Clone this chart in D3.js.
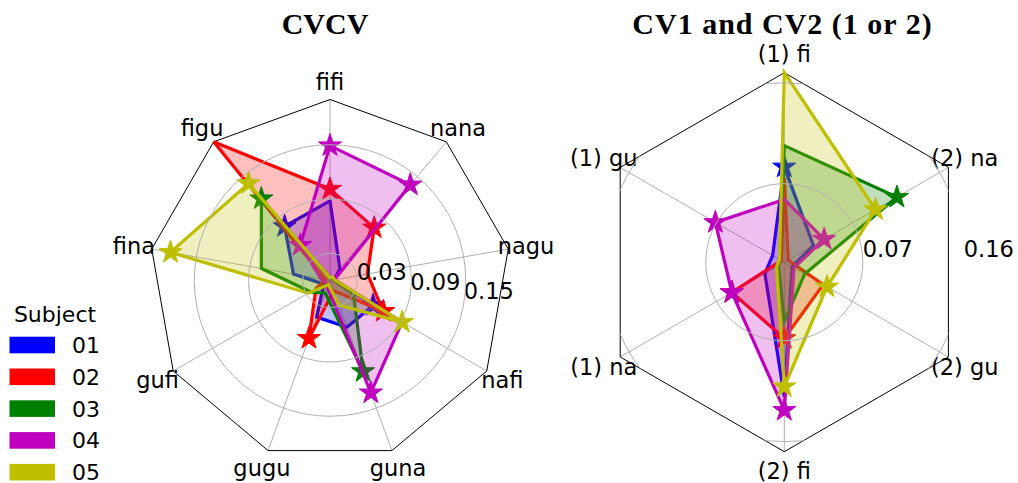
<!DOCTYPE html>
<html>
<head>
<meta charset="utf-8">
<script src="https://cdn.jsdelivr.net/npm/d3@7"></script>
<style>
  html, body { margin: 0; padding: 0; background: #fff; }
  svg { display: block; }
</style>
</head>
<body>
<svg id="chart" width="1018" height="483"></svg>
<script>
// ---------------- DATA ----------------
const subjects = ["01", "02", "03", "04", "05"];

// Left chart: CVCV
const cvcvAxes = ["fifi", "figu", "fina", "gufi", "gugu", "guna", "nafi", "nagu", "nana"];
const cvcvTicks = [0.03, 0.09, 0.15];
const cvcvMax = 0.2;
const cvcv01 = [0.088, 0.078, 0.041, 0.008, 0.043, 0.055, 0.055, 0.005, 0.017];
const cvcv02 = [0.101, 0.200, 0.005, 0.018, 0.068, 0.012, 0.068, 0.042, 0.076];
const cvcv03 = [0.003, 0.118, 0.077, 0.025, 0.015, 0.107, 0.030, 0.004, 0.004];
const cvcv04 = [0.149, 0.051, 0.010, 0.005, 0.008, 0.132, 0.092, 0.005, 0.138];
const cvcv05 = [0.003, 0.140, 0.179, 0.028, 0.005, 0.029, 0.092, 0.005, 0.005];
// which points carry a star marker
const cvcvStars01 = [0, 1, 0, 0, 0, 0, 1, 0, 0];
const cvcvStars02 = [1, 0, 0, 0, 1, 0, 1, 0, 1];
const cvcvStars03 = [0, 1, 0, 0, 0, 1, 0, 0, 0];
const cvcvStars04 = [1, 1, 0, 0, 0, 1, 0, 0, 1];
const cvcvStars05 = [0, 1, 1, 0, 0, 0, 1, 0, 0];

// Right chart: CV1 and CV2
const cvAxes = ["(1) fi", "(1) gu", "(1) na", "(2) fi", "(2) gu", "(2) na"];
const cvTicks = [0.07, 0.16];
const cvMax = 0.169;
const cv01 = [0.085, 0.012, 0.020, 0.120, 0.008, 0.030];
const cv02 = [0.075, 0.003, 0.054, 0.068, 0.040, 0.004];
const cv03 = [0.104, 0.005, 0.006, 0.053, 0.021, 0.116];
const cv04 = [0.056, 0.071, 0.054, 0.132, 0.010, 0.041];
const cv05 = [0.169, 0.005, 0.008, 0.111, 0.044, 0.094];
const cvStars01 = [1, 0, 0, 0, 0, 0];
const cvStars02 = [0, 0, 1, 1, 0, 0];
const cvStars03 = [0, 0, 0, 0, 0, 1];
const cvStars04 = [0, 1, 1, 1, 0, 1];
const cvStars05 = [0, 0, 0, 1, 1, 1];

// ---------------- STYLE ----------------
const colors = ["#0000ff", "#ff0000", "#008000", "#bf00bf", "#bfbf00"];
const font = "'DejaVu Sans', sans-serif";
const fontSize = 22.5;

const svg = d3.select("#chart");

function radar(opts) {
  const { id, cx, cy, R, axes, max, ticks, series, stars, labelAngleDeg, title, titleX, titleSpacing } = opts;
  const N = axes.length;
  const r = d3.scaleLinear().domain([0, max]).range([0, R]);
  const ang = i => -i * 2 * Math.PI / N;        // d3 radial angle (0 = up, clockwise +)
  const px = (i, rr) => [rr * Math.sin(ang(i)), -rr * Math.cos(ang(i))];

  const g = svg.append("g").attr("transform", `translate(${cx},${cy})`);

  const framePts = d3.range(N).map(i => px(i, R));
  svg.append("clipPath").attr("id", "clip-" + id)
    .append("polygon")
    .attr("transform", `translate(${cx},${cy})`)
    .attr("points", framePts.map(p => p.join(",")).join(" "));

  // grid circles
  const grid = svg.append("g").attr("clip-path", `url(#clip-${id})`)
    .append("g").attr("transform", `translate(${cx},${cy})`);
  grid.selectAll("circle").data(ticks).join("circle")
    .attr("r", d => r(d)).attr("fill", "none")
    .attr("stroke", "#b0b0b0").attr("stroke-width", 1);
  // spokes
  g.selectAll("line.spoke").data(d3.range(N)).join("line")
    .attr("class", "spoke")
    .attr("x1", 0).attr("y1", 0)
    .attr("x2", i => px(i, R)[0]).attr("y2", i => px(i, R)[1])
    .attr("stroke", "#b0b0b0").attr("stroke-width", 1);

  // frame
  g.append("polygon")
    .attr("points", framePts.map(p => p.join(",")).join(" "))
    .attr("fill", "none").attr("stroke", "#000").attr("stroke-width", 1);

  // series
  const line = d3.lineRadial()
    .angle((d, i) => ang(i))
    .radius(d => r(d))
    .curve(d3.curveLinearClosed);
  const star = d3.symbol().type(d3.symbolStar).size(165);

  series.forEach((vals, s) => {
    const sg = g.append("g");
    sg.append("path").attr("d", line(vals))
      .attr("fill", "none").attr("stroke", colors[s])
      .attr("stroke-width", 3.2).attr("stroke-linejoin", "miter");
    vals.forEach((v, i) => {
      if (stars[s][i]) {
        const p = px(i, r(v));
        sg.append("path").attr("d", star())
          .attr("transform", `translate(${p[0]},${p[1]})`)
          .attr("fill", colors[s]).attr("stroke", colors[s]).attr("stroke-width", 1);
      }
    });
    sg.append("path").attr("d", line(vals))
      .attr("fill", colors[s]).attr("fill-opacity", 0.25).attr("stroke", "none");
  });

  // axis labels
  g.selectAll("text.axlab").data(axes).join("text")
    .attr("class", "axlab")
    .attr("x", (d, i) => px(i, R * 1.1)[0])
    .attr("y", (d, i) => px(i, R * 1.1)[1])
    .attr("dy", "0.36em")
    .attr("text-anchor", "middle")
    .attr("font-family", font).attr("font-size", fontSize)
    .text(d => d);

  // radial tick labels
  const la = labelAngleDeg * Math.PI / 180;
  g.selectAll("text.rlab").data(ticks).join("text")
    .attr("class", "rlab")
    .attr("x", d => r(d) * Math.cos(la))
    .attr("y", d => -r(d) * Math.sin(la) - 5)
    .attr("text-anchor", "start")
    .attr("font-family", font).attr("font-size", fontSize)
    .text(d => d.toFixed(2));

  // title
  svg.append("text")
    .attr("x", titleX).attr("y", 33.5)
    .attr("text-anchor", "middle")
    .attr("font-family", "'Liberation Serif', serif")
    .attr("font-weight", "bold").attr("font-size", 30)
    .attr("letter-spacing", titleSpacing)
    .text(title);
}

radar({
  id: "l", cx: 330, cy: 280.5, R: 181, axes: cvcvAxes, max: cvcvMax, ticks: cvcvTicks,
  series: [cvcv01, cvcv02, cvcv03, cvcv04, cvcv05],
  stars: [cvcvStars01, cvcvStars02, cvcvStars03, cvcvStars04, cvcvStars05],
  labelAngleDeg: -10, title: "CVCV", titleX: 325, titleSpacing: 0
});
radar({
  id: "r", cx: 784.3, cy: 262.2, R: 189.5, axes: cvAxes, max: cvMax, ticks: cvTicks,
  series: [cv01, cv02, cv03, cv04, cv05],
  stars: [cvStars01, cvStars02, cvStars03, cvStars04, cvStars05],
  labelAngleDeg: 0, title: "CV1 and CV2 (1 or 2)", titleX: 782.5, titleSpacing: 1
});

// legend
const leg = svg.append("g");
leg.append("text").attr("x", 55).attr("y", 314).attr("dy", "0.36em")
  .attr("text-anchor", "middle").attr("font-family", font).attr("font-size", 22)
  .text("Subject");
const items = leg.selectAll("g.item").data(subjects).join("g")
  .attr("class", "item")
  .attr("transform", (d, i) => `translate(0,${345 + i * 31.8})`);
items.append("rect").attr("x", 9.5).attr("y", -8.3).attr("width", 45.5).attr("height", 16.6)
  .attr("fill", (d, i) => colors[i]);
items.append("text").attr("x", 72).attr("y", 0).attr("dy", "0.36em")
  .attr("font-family", font).attr("font-size", 22)
  .text(d => d);
</script>
</body>
</html>
